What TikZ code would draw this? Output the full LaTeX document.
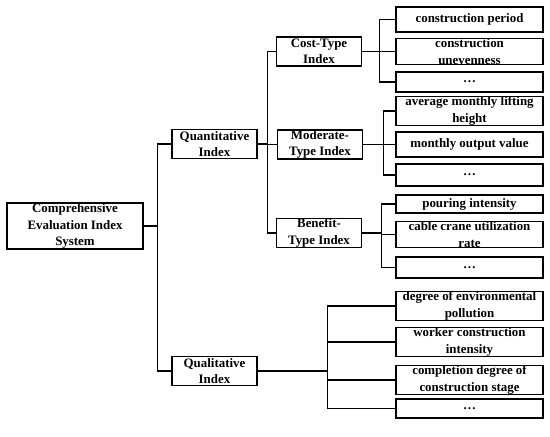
\documentclass[tikz,border=0pt]{standalone}
\usepackage{fontspec}
\setmainfont{Liberation Serif}
\usetikzlibrary{positioning}

\begin{document}
\begin{tikzpicture}[x=1pt, y=-1pt, font=\fontsize{12.9}{16.5}\selectfont\bfseries, line width=1.3pt,
  box/.style={draw, align=center, inner sep=0.5pt, line width=1.3pt},
  root/.style={box, minimum width=136pt, minimum height=46pt},
  mid/.style={box, minimum width=85pt, minimum height=29pt},
  leaf/.style={box, minimum width=147pt, minimum height=20pt}]
\useasboundingbox (0,0) rectangle (550,437);
\node[root] (sys) at (75,226) {Comprehensive\\Evaluation Index\\System};
\node[mid] (quant) at (214.5,144) {Quantitative\\Index};
\node[mid] (qual) at (214.5,371) {Qualitative\\Index};
\node[mid] (cost) at (319,51.5) {Cost-Type\\Index};
\node[mid] (mod) at (320,144.5) {Moderate-\\Type Index};
\node[mid] (ben) at (319,233) {Benefit-\\Type Index};
% cost-type leaves
\node[leaf, minimum height=25pt] (c1) at (469.5,19.5) {construction period};
\node[leaf] (c2) at (469.5,51.5) {construction\\unevenness};
\node[leaf] (c3) at (469.5,82) {\dots};
% moderate-type leaves
\node[leaf] (m1) at (469.5,111) {average monthly lifting\\height};
\node[leaf, minimum height=25pt] (m2) at (469.5,144.5) {monthly output value};
\node[leaf, minimum height=22pt] (m3) at (469.5,175) {\dots};
% benefit-type leaves
\node[leaf, minimum height=18pt] (b1) at (469.5,204) {pouring intensity};
\node[leaf] (b2) at (469.5,234.5) {cable crane utilization\\rate};
\node[leaf, minimum height=21pt] (b3) at (469.5,267.5) {\dots};
% qualitative leaves
\node[leaf] (q1) at (469.5,306) {degree of environmental\\pollution};
\node[leaf] (q2) at (469.5,342) {worker construction\\intensity};
\node[leaf] (q3) at (469.5,380) {completion degree of\\construction stage};
\node[leaf, minimum height=19pt] (q4) at (469.5,408.5) {\dots};
% connectors
\draw (sys.east) -- ++(14,0) coordinate (s0);
\draw (s0) |- (quant.west); \draw (s0) |- (qual.west);
\draw (quant.east) -- ++(10,0) coordinate (s1);
\foreach \n in {cost, mod, ben} \draw (s1) |- (\n.west);
\draw (cost.east) -- ++(17,0) coordinate (s2);
\foreach \n in {c1, c2, c3} \draw (s2) |- (\n.west);
\draw (mod.east) -- ++(20,0) coordinate (s3);
\foreach \n in {m1, m2, m3} \draw (s3) |- (\n.west);
\draw (ben.east) -- ++(19,0) coordinate (s4);
\foreach \n in {b1, b2, b3} \draw (s4) |- (\n.west);
\draw[line width=2.2pt] (qual.east) -- ++(70,0) coordinate (s5);
\foreach \n in {q1, q2, q3, q4} \draw (s5) |- (\n.west);
\end{tikzpicture}
\end{document}
